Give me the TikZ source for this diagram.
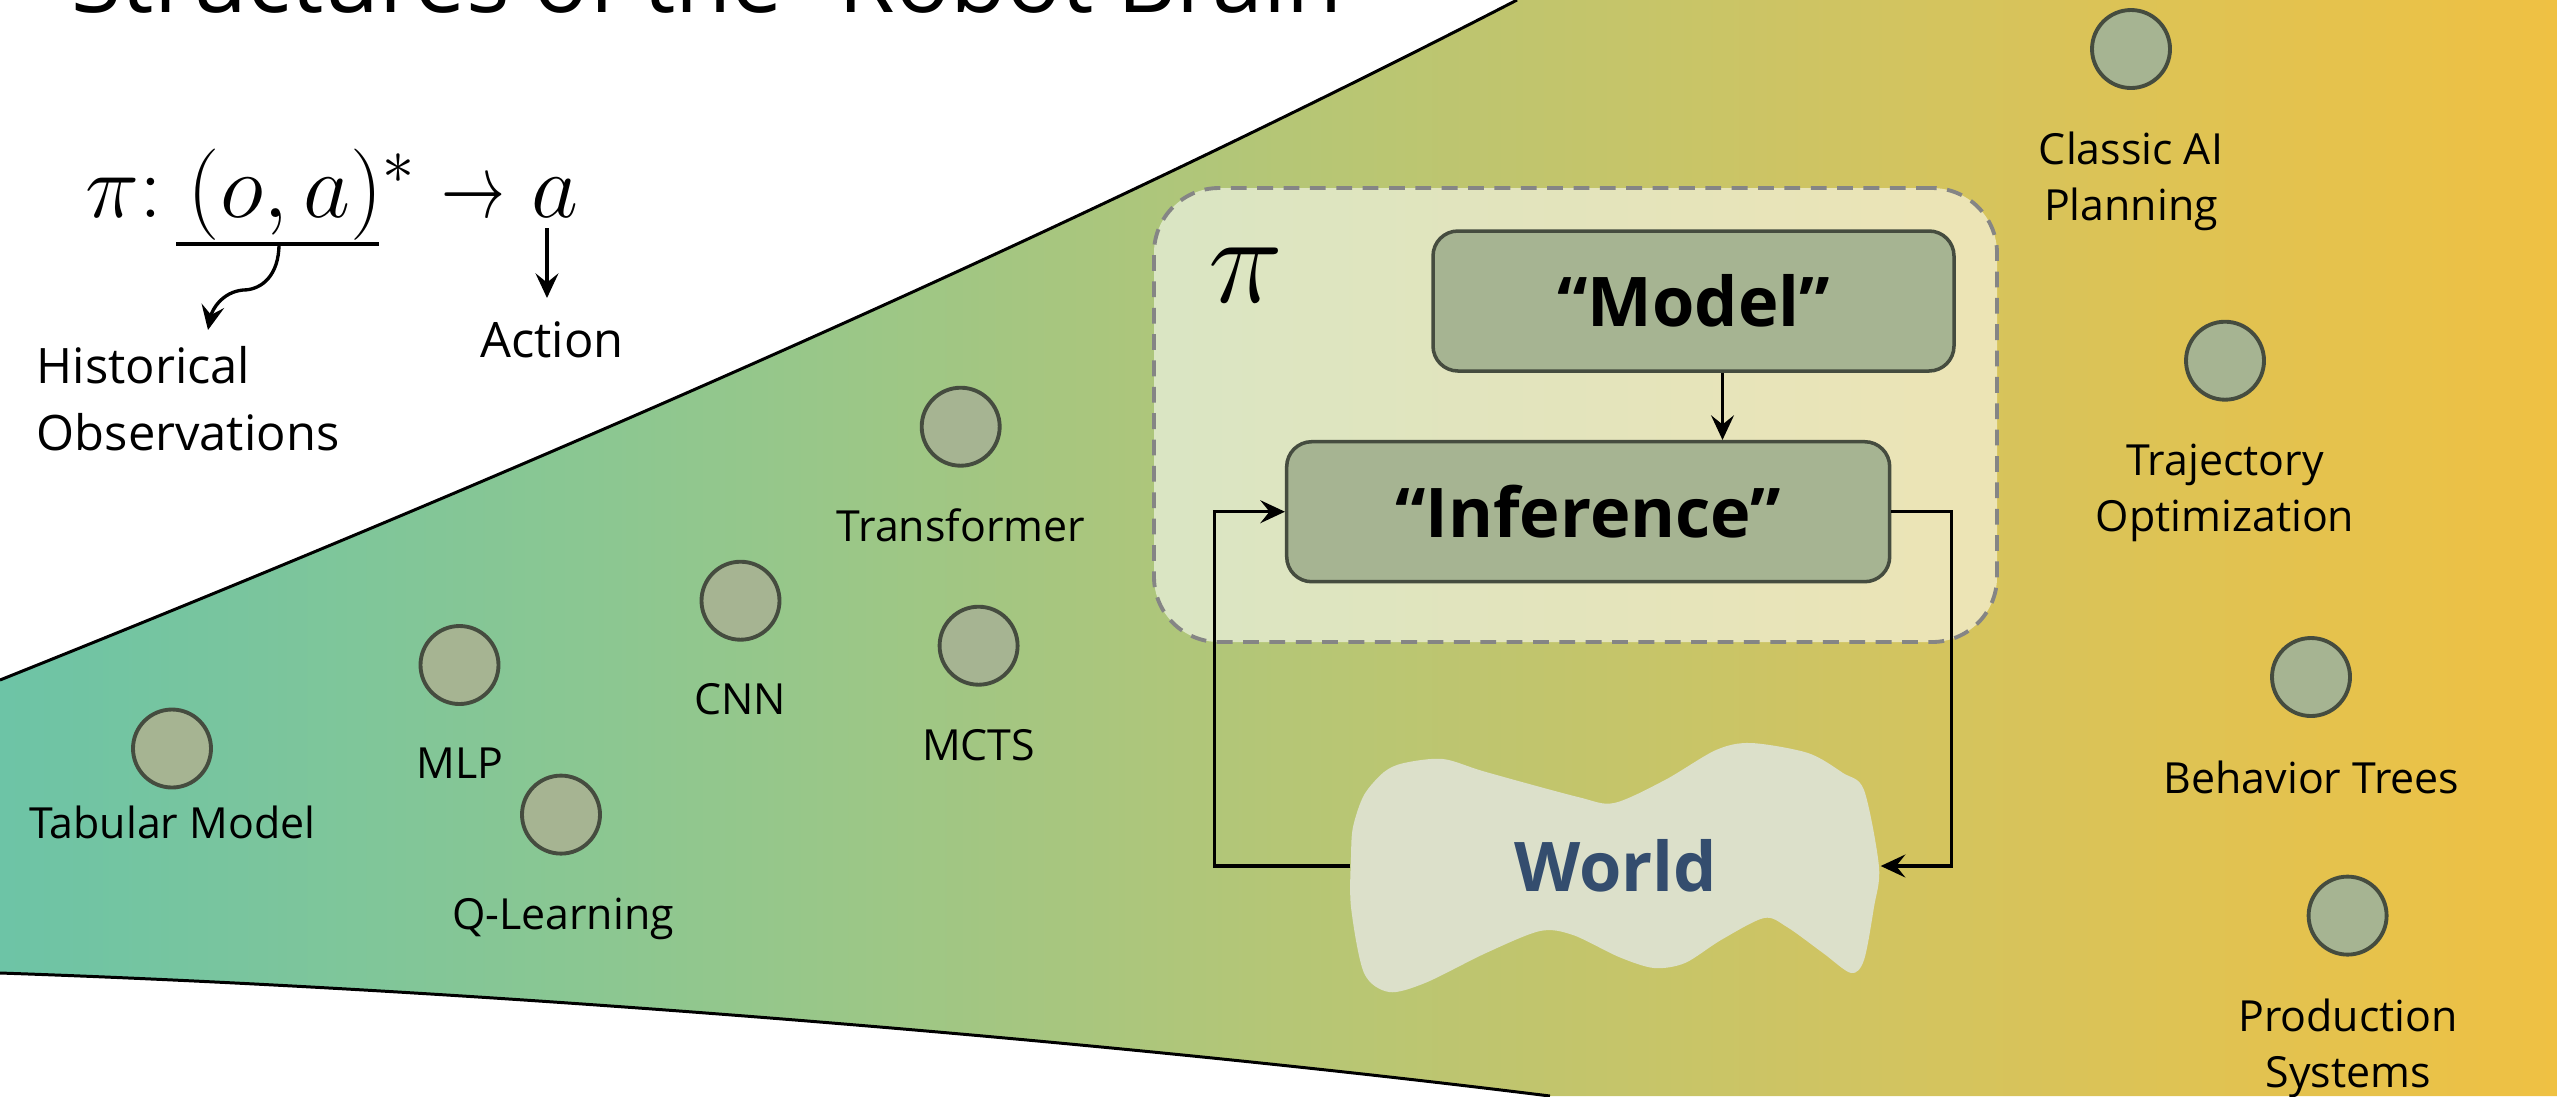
\RequirePackage{fix-cm}
\documentclass[tikz,border=0pt]{standalone}
\usepackage{amsmath}
\usepackage{graphicx}
\usepackage[no-math]{fontspec}
\setmainfont{Open Sans}
\usepackage{tikz}
\usetikzlibrary{arrows.meta,positioning}
\usepackage{xcolor}
\definecolor{nodefill}{HTML}{A6B492}
\definecolor{nodeline}{HTML}{454C3F}
\definecolor{worldfill}{HTML}{DCE0CA}
\definecolor{worldtext}{HTML}{344D6E}
\definecolor{dashgray}{HTML}{858585}
\definecolor{fnA}{HTML}{6DC4A6}
\definecolor{fnB}{HTML}{8CC791}
\definecolor{fnC}{HTML}{B5C676}
\definecolor{fnD}{HTML}{D2C460}
\definecolor{fnE}{HTML}{EFC143}
\pgfdeclarehorizontalshading{funnelshade}{100bp}{color(0bp)=(fnA); color(25bp)=(fnA);
  color(37bp)=(fnB); color(50bp)=(fnC); color(62bp)=(fnD); color(75bp)=(fnE); color(100bp)=(fnE)}
\tikzset{
  algo_n/.style = {circle, draw=nodeline, fill=nodefill, line width=1.1pt,
    minimum size=0.78cm, inner sep=0pt},% methode, noeud
  algo_l/.style = {align=center, inner sep=0pt, anchor=base,
    font=\fontsize{12.2}{15.9}\selectfont},% methode, etiquette (base = derniere ligne)
  note_l/.style = {inner sep=0pt, font=\fontsize{13.9}{18.8}\selectfont},% etiquette formule
  blk_b/.style = {rectangle, rounded corners=0.25cm, draw=nodeline, fill=nodefill,
    line width=1pt, inner sep=0pt, font=\fontsize{19.5}{22}\selectfont\bfseries},% bloc
  pol_b/.style = {rectangle, rounded corners=0.65cm, draw=dashgray, line width=1.1pt,
    dash pattern=on 4.5pt off 3pt, fill=white, fill opacity=0.55},% boite pi
  wire/.style = {line width=0.95pt}% fleche
}

\begin{document}
\begin{tikzpicture}[>={Stealth[length=7pt, width=6.5pt, inset=2.6pt]}]
    \useasboundingbox[fill=white] (0,0) rectangle (25.57,-10.96);
    % entonnoir
    \shade[shading=funnelshade] (0,-6.80) .. controls (6.0,-4.40) and (11.0,-2.15) .. (15.17,0)
        -- (25.57,0) -- (25.57,-10.96) -- (15.5,-10.96)
        .. controls (11.0,-10.40) and (5.0,-9.90) .. (0,-9.73) -- cycle;
    \draw[line width=0.85pt] (0,-6.80) .. controls (6.0,-4.40) and (11.0,-2.15) .. (15.17,0);
    \draw[line width=0.85pt] (0,-9.73) .. controls (5.0,-9.90) and (11.0,-10.40) .. (15.5,-10.96);

    \node[anchor=base west, inner sep=0pt, font=\fontsize{26}{30}\selectfont] (title) at (0.71,-0.12)
        {Structures of the “Robot Brain”};

    % formule
    \node[anchor=base west, inner sep=0pt, font=\fontsize{26}{30}\selectfont] (formula) at (0.85,-2.17)
        {$\pi{:}\;(o,a)^{*}\mathrel{\scalebox{0.7}[1]{$\rightarrow$}}a$};
    \coordinate (ul_a) at (1.76,-2.44);
    \coordinate (ul_b) at (3.79,-2.44);
    \coordinate (ul_m) at (2.79,-2.44);
    \coordinate (ul_e) at (2.08,-3.30);
    \coordinate (act_a) at (5.47,-2.28);
    \coordinate (act_e) at (5.47,-2.98);
    \draw[wire] (ul_a) -- (ul_b);
    \draw[wire,->] (ul_m) .. controls (2.79,-2.75) and (2.62,-2.90) .. (2.43,-2.90)
        .. controls (2.22,-2.92) and (2.12,-3.10) .. (ul_e);
    \draw[wire,->] (act_a) -- (act_e);
    \node[note_l, anchor=base west, align=left] (hist) at (0.36,-4.50) {Historical\\Observations};
    \node[note_l, anchor=base] (action) at (5.52,-3.57) {Action};

    % methodes
    \node[algo_n] (tab) at (1.72,-7.485) {};
    \node[algo_n] (mlp) at (4.595,-6.65) {};
    \node[algo_n] (ql) at (5.61,-8.146) {};
    \node[algo_n] (cnn) at (7.405,-6.007) {};
    \node[algo_n] (trf) at (9.607,-4.267) {};
    \node[algo_n] (mcts) at (9.786,-6.457) {};
    \node[algo_n] (cai) at (21.31,-0.49) {};
    \node[algo_n] (traj) at (22.25,-3.607) {};
    \node[algo_n] (bt) at (23.11,-6.77) {};
    \node[algo_n] (ps) at (23.476,-9.156) {};
    \node[algo_l] (tab_l) at (1.725,-8.385) {Tabular Model};
    \node[algo_l] (mlp_l) at (4.60,-7.78) {MLP};
    \node[algo_l] (ql_l) at (5.63,-9.295) {Q-Learning};
    \node[algo_l] (cnn_l) at (7.40,-7.14) {CNN};
    \node[algo_l] (trf_l) at (9.61,-5.41) {Transformer};
    \node[algo_l] (mcts_l) at (9.785,-7.60) {MCTS};
    \node[algo_l] (cai_l) at (21.31,-2.20) {Classic AI\\Planning};
    \node[algo_l] (traj_l) at (22.25,-5.31) {Trajectory\\Optimization};
    \node[algo_l] (bt_l) at (23.115,-7.93) {Behavior Trees};
    \node[algo_l] (ps_l) at (23.48,-10.87) {Production\\Systems};

    % politique
    \node[pol_b, minimum width=8.43cm, minimum height=4.54cm] (policy) at (15.755,-4.15) {};
    \node[font=\fontsize{36}{40}\selectfont, inner sep=0pt] (pi_l) at (12.46,-2.75) {$\pi$};
    \node[blk_b, minimum width=5.21cm, minimum height=1.40cm] (model) at (16.935,-3.01) {“Model”};
    \node[blk_b, minimum width=6.03cm, minimum height=1.40cm] (inference) at (15.882,-5.117) {“Inference”};
    \coordinate (m_out) at ([xshift=2.9mm]model.south);
    \draw[wire,->] (m_out) -- (m_out |- inference.north);

    % monde
    \fill[worldfill] plot[smooth cycle, tension=0.5] coordinates {
        (13.51,-8.57) (13.53,-8.27) (13.64,-7.95) (13.84,-7.72) (14.04,-7.63)
        (14.43,-7.59) (14.86,-7.72) (15.78,-7.97) (16.14,-8.03) (16.65,-7.80)
        (17.16,-7.50) (17.51,-7.43) (18.08,-7.53) (18.43,-7.73) (18.64,-7.90)
        (18.79,-8.67) (18.74,-9.07) (18.64,-9.60) (18.51,-9.73) (18.23,-9.53)
        (17.87,-9.27) (17.64,-9.18) (17.21,-9.40) (16.85,-9.63) (16.54,-9.68)
        (16.19,-9.57) (15.73,-9.35) (15.40,-9.31) (14.86,-9.53) (14.25,-9.83)
        (13.89,-9.92) (13.64,-9.73) (13.51,-9.07)};
    \node[minimum width=5.29cm, inner sep=0pt, text=worldtext,
        font=\fontsize{19.5}{22}\selectfont\bfseries] (world) at (16.155,-8.66) {World};
    \draw[wire,->] (inference.east) -- ++(0.6,0) |- (world.east);
    \draw[wire,->] (world.west) -- ++(-1.36,0) |- (inference.west);
\end{tikzpicture}
\end{document}
